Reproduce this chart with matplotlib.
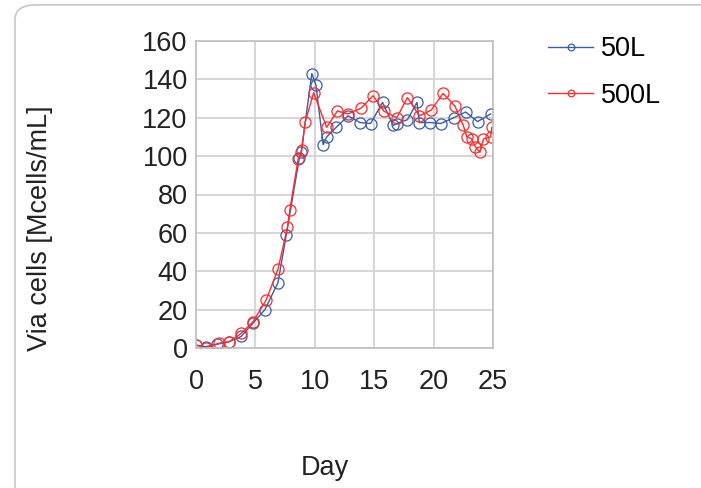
import numpy as np
import matplotlib.pyplot as plt
from matplotlib.patches import FancyBboxPatch

plt.rcParams['font.family'] = ['Liberation Sans', 'DejaVu Sans']

day_50 = [0, 0.8, 1.8, 2.8, 3.8, 4.8, 5.8, 6.9, 7.6, 8.7, 8.85, 9.75, 10.1, 10.7,
          11.0, 11.8, 12.8, 13.8, 14.7, 15.7, 16.6, 16.9, 17.8, 18.6, 18.8, 19.7,
          20.6, 21.7, 22.7, 23.7, 24.8]
via_50 = [1.5, 0.7, 2, 3.3, 6, 13, 20, 34, 59, 99, 102, 143, 137, 106,
          110, 115, 121, 117.5, 117, 128, 116, 117, 119, 128, 117.5, 117.5,
          117, 120, 123, 118, 122]

day_500 = [0, 0.8, 1.9, 2.8, 3.8, 4.8, 5.9, 6.9, 7.7, 7.9, 8.6, 8.9, 9.2, 9.9,
           11.0, 11.9, 12.8, 13.9, 14.9, 15.8, 16.9, 17.8, 18.8, 19.8, 20.8,
           21.8, 22.5, 22.8, 23.2, 23.5, 23.9, 24.2, 24.8, 24.9]
via_500 = [1.5, 0, 2.4, 3.3, 7.6, 13.7, 25, 41, 63, 72, 98.6, 103, 118, 133,
           115, 123.5, 122, 125, 131.5, 123.5, 120, 130.5, 121, 124, 132.7,
           126, 116, 110, 109, 105, 102, 109, 110, 115]

fig = plt.figure(figsize=(7.01, 4.88), dpi=100)
fig.patches.append(FancyBboxPatch((15 / 701, -0.05), 1.2, 1.04,
                                  boxstyle='round,pad=0,rounding_size=0.03',
                                  transform=fig.transFigure, fill=False,
                                  edgecolor='#c8c8c8', linewidth=1.2))

ax = fig.add_axes([196 / 701, 140 / 488, 297 / 701, 307 / 488])
ax.plot(day_50, via_50, color='#3b5ca8', lw=1, marker='o', ms=8,
        mfc='none', mew=0.9, label='50L')
ax.plot(day_500, via_500, color='#ff2a2a', lw=1, marker='o', ms=8,
        mfc='none', mew=0.9, label='500L')

ax.set_xlim(0, 25)
ax.set_ylim(0, 160)
ax.set_xticks(np.arange(0, 26, 5))
ax.set_yticks(np.arange(0, 161, 20))
ax.grid(True, color='#d0d0d0', lw=1.2)
ax.set_axisbelow(True)
for s in ax.spines.values():
    s.set_color('#bfbfbf')
    s.set_linewidth(1.2)
ax.tick_params(length=0, labelsize=19.5, colors='#222222', pad=6)
ax.tick_params(axis='x', pad=15)

fig.text(40 / 701, 1 - 228 / 488, 'Via cells [Mcells/mL]', rotation=90,
         ha='center', va='center', fontsize=19.5, color='#222222')
fig.text(325 / 701, 1 - 468 / 488, 'Day', ha='center', va='center',
         fontsize=19.5, color='#222222')

fig.legend(loc='upper left', bbox_to_anchor=(524 / 701, 1 - 12 / 488),
           frameon=False, fontsize=19.5, handlelength=1.65, markerscale=0.6,
           labelspacing=0.75, handletextpad=0.3)

fig.savefig('out.png', dpi=100)
